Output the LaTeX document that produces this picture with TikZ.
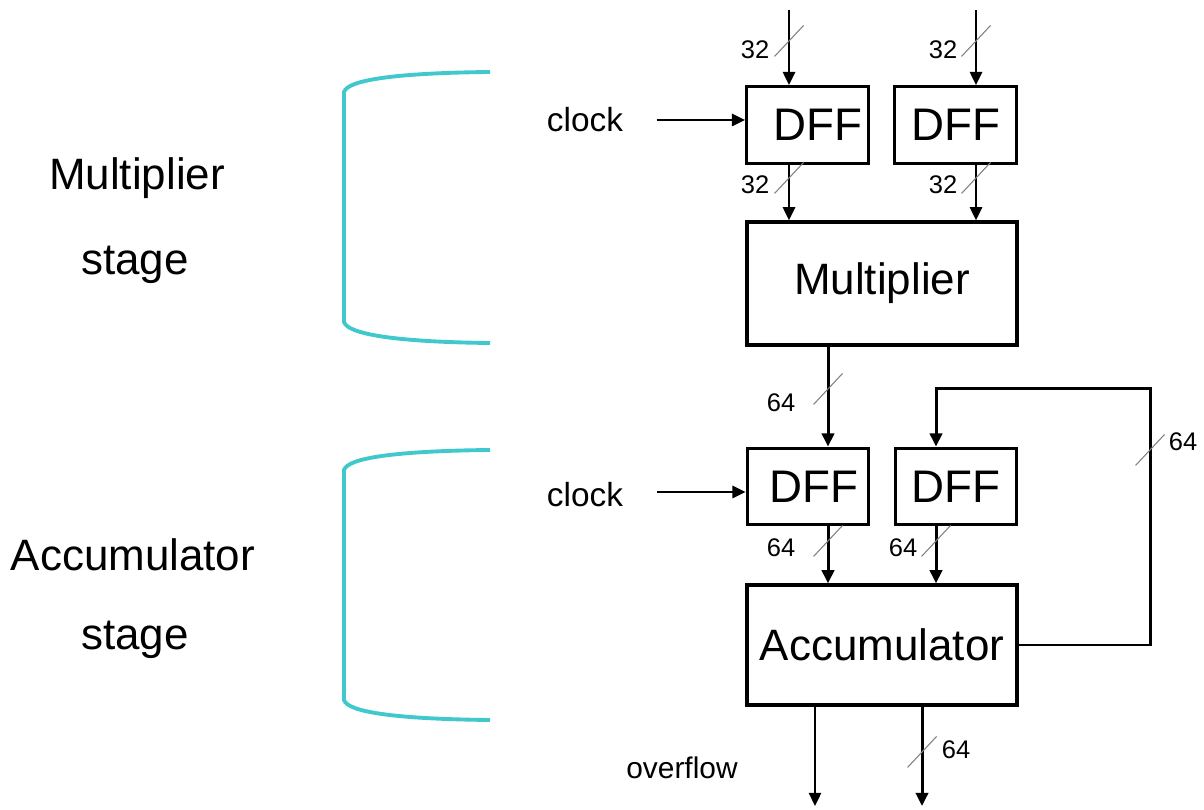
\documentclass[tikz,border=0pt]{standalone}
\usepackage{fontspec}
\setmainfont{Liberation Sans}
\usetikzlibrary{arrows.meta,positioning}
\definecolor{stagecyan}{RGB}{64,200,204}
\tikzset{
  block/.style={draw, line width=1.9pt, inner sep=0pt},
  ff/.style={block, minimum width=2.43cm, minimum height=1.53cm, font=\fontsize{26}{28}\selectfont},
  unit/.style={block, minimum width=5.4cm, font=\fontsize{25}{28}\selectfont},
  wire/.style={line width=1.1pt, -{Triangle[length=7.5pt,width=7pt]}},
  bus/.style={wire, line width=1.7pt},
  tick/.style={draw=gray, line width=0.6pt},
  num/.style={font=\fontsize{14.5}{16}\selectfont, inner sep=0pt},
  sig/.style={font=\fontsize{19}{22}\selectfont},
  stagelbl/.style={font=\fontsize{25}{28}\selectfont},
  brace/.style={draw=stagecyan, line width=2.2pt}
}
\begin{document}
\begin{tikzpicture}
  \useasboundingbox (0,0) rectangle (24.08,16.2);
  % stage labels and brackets
  \node[stagelbl] (mstage1) at (2.74,12.64) {Multiplier};
  \node[stagelbl] (mstage2) at (2.70,10.90) {stage};
  \node[stagelbl] (astage1) at (2.66,5.10) {Accumulator};
  \node[stagelbl] (astage2) at (2.70,3.40) {stage};
  \draw[brace] (9.80,14.76) .. controls (7.9,14.74) and (6.95,14.60) .. (6.88,14.36)
    -- (6.88,9.76) .. controls (6.95,9.52) and (7.9,9.36) .. (9.80,9.34);
  \draw[brace] (9.80,7.20) .. controls (7.9,7.18) and (6.95,7.04) .. (6.88,6.80)
    -- (6.88,2.20) .. controls (6.95,1.96) and (7.9,1.82) .. (9.80,1.80);

  % blocks
  \node[ff] (dff1) at (16.15,13.70) {\hspace{0.4cm}DFF};
  \node[ff] (dff2) at (19.11,13.70) {DFF\hspace{0.2cm}};
  \node[unit, minimum height=2.46cm] (mult) at (17.64,10.53) {Multiplier};
  \node[ff] (dff3) at (16.16,6.47) {\hspace{0.25cm}DFF};
  \node[ff] (dff4) at (19.12,6.47) {DFF\hspace{0.25cm}};
  \node[unit, minimum height=2.40cm] (acc) at (17.64,3.30) {Accumulator};
  \node[sig] (clk1) at (11.70,13.80) {clock};
  \node[sig] (clk2) at (11.70,6.30) {clock};
  \node[sig, font=\fontsize{17}{20}\selectfont] (ovf) at (13.64,0.84) {overflow};

  % free ends
  \coordinate (in1) at (15.78,16.0);
  \coordinate (in2) at (19.52,16.0);
  \coordinate (fb1) at (23.00,3.30);
  \coordinate (fb2) at (23.00,8.42);
  \coordinate (out1) at (16.30,0.08);
  \coordinate (out2) at (18.44,0.08);

  % multiplier stage
  \draw[wire] (in1) -- (in1 |- dff1.north);
  \draw[wire] (in2) -- (in2 |- dff2.north);
  \draw[wire] ([xshift=0.55cm]clk1.east |- 0,13.80) -- (dff1.west |- 0,13.80);
  \draw[wire] (in1 |- dff1.south) -- (in1 |- mult.north);
  \draw[wire] (in2 |- dff2.south) -- (in2 |- mult.north);
  \draw[bus] (16.56,0 |- mult.south) -- (16.56,0 |- dff3.north);

  % accumulator stage
  \draw[wire] ([xshift=0.55cm]clk2.east |- 0,6.36) -- (dff3.west |- 0,6.36);
  \draw[bus] (16.56,0 |- dff3.south) -- (16.56,0 |- acc.north);
  \draw[bus] (18.72,0 |- dff4.south) -- (18.72,0 |- acc.north);
  \draw[bus] (acc.east) -- (fb1) -- (fb2) -- (18.72,8.42) -- (18.72,0 |- dff4.north);
  \draw[wire] (out1 |- acc.south) -- (out1);
  \draw[bus] (out2 |- acc.south) -- (out2);

  % bus widths
  \foreach \x/\y in {15.78/15.38, 19.52/15.38, 15.78/12.64, 19.52/12.64,
                     16.56/8.42, 23.00/7.20, 16.56/5.38, 18.72/5.38, 18.44/1.16}
    \draw[tick] (\x-0.29,\y-0.31) -- (\x+0.29,\y+0.31);
  \node[num] (w1) at (15.10,15.20) {32};
  \node[num] (w2) at (18.86,15.20) {32};
  \node[num] (w3) at (15.10,12.50) {32};
  \node[num] (w4) at (18.86,12.50) {32};
  \node[num] (w5) at (15.62,8.14) {64};
  \node[num] (w6) at (23.66,7.36) {64};
  \node[num] (w7) at (15.62,5.24) {64};
  \node[num] (w8) at (18.06,5.24) {64};
  \node[num] (w9) at (19.12,1.20) {64};
\end{tikzpicture}
\end{document}
